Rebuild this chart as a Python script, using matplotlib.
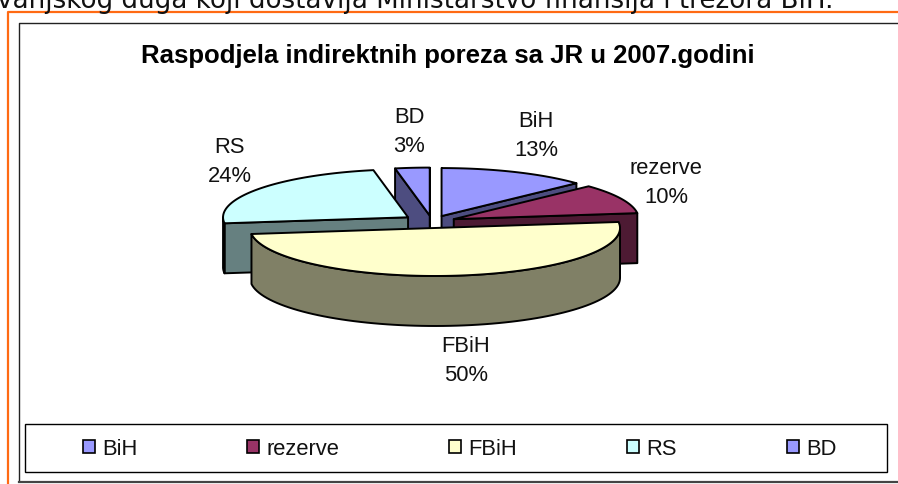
"""
Exploded 3D-look pie of the indirect tax split, drawn on a pixel-sized axes.

Output:
    out.png
"""

import matplotlib

matplotlib.use("Agg")

import matplotlib.pyplot as plt
import numpy as np
from matplotlib.colors import to_rgb
from matplotlib.patches import Patch, Rectangle

TITLE = "Raspodjela indirektnih poreza sa JR u 2007.godini"
HEADER = "vanjskog duga koji dostavlja Ministarstvo finansija i trezora BiH."

labels = ["BiH", "rezerve", "FBiH", "RS", "BD"]
values = [13, 10, 50, 24, 3]
colors = ["#9999FF", "#993366", "#FFFFCC", "#CCFFFF", "#9999FF"]
explode = [0.13, 0.13, 0.13, 0.16, 0.13]
label_pos = [(536, 136), (666, 183), (466, 361.5), (230, 162), (409, 132)]
draw_order = [4, 0, 3, 1, 2]

CENTER = (432, 222.8)
RX = 185
RY = 48
DEPTH = 50
SANS = "Liberation Sans"


def ellipse_point(angle, cx, cy):
    # angle runs clockwise from 12 o'clock, in radians
    return cx + RX * np.sin(angle), cy - RY * np.cos(angle)


def draw_wedge(ax, start, end, color, shift):
    mid = (start + end) / 2
    cx = CENTER[0] + shift * RX * np.sin(mid)
    cy = CENTER[1] - shift * RY * np.cos(mid)
    dark = tuple(c / 2 for c in to_rgb(color))
    style = dict(edgecolor="black", linewidth=1.4, joinstyle="round")

    # cut faces, only the ones turned towards the viewer
    for angle, sign in ((start, -1), (end, 1)):
        if sign * np.sin(angle) < -1e-6:
            continue
        ex, ey = ellipse_point(angle, cx, cy)
        ax.fill(
            [cx, ex, ex, cx],
            [cy, ey, ey + DEPTH, cy + DEPTH],
            facecolor=dark,
            **style,
        )

    # outer rim, front half of the ellipse only
    lo = max(start, np.pi / 2)
    hi = min(end, 3 * np.pi / 2)
    if hi > lo:
        t = np.linspace(lo, hi, 80)
        rx, ry = ellipse_point(t, cx, cy)
        ax.fill(
            np.r_[rx, rx[::-1]],
            np.r_[ry, ry[::-1] + DEPTH],
            facecolor=dark,
            **style,
        )

    t = np.linspace(start, end, 120)
    tx, ty = ellipse_point(t, cx, cy)
    ax.fill(np.r_[cx, tx], np.r_[cy, ty], facecolor=color, **style)


def main():
    fig = plt.figure(figsize=(8.98, 4.85), dpi=100)
    ax = fig.add_axes([0, 0, 1, 1])
    ax.set_xlim(0, 898)
    ax.set_ylim(485, 0)
    ax.axis("off")

    # page text and the orange box around the chart
    ax.text(-3, 7.5, HEADER, family="DejaVu Sans", fontsize=18.8, color="#111111", va="baseline")
    ax.plot([8, 8, 898], [485, 12.5, 12.5], color="#FF6A13", linewidth=1.6)
    ax.plot([898, 18.5, 18.5], [23.5, 23.5, 482], color="#222222", linewidth=1.0)
    ax.plot([18.5, 898], [482.5, 482.5], color="#444444", linewidth=1.6)

    ax.text(447.5, 56, TITLE, family=SANS, fontsize=18.55, fontweight="bold", ha="center", va="center")

    fractions = np.array(values) / sum(values)
    edges = np.r_[0, np.cumsum(fractions)] * 2 * np.pi
    for i in draw_order:
        draw_wedge(ax, edges[i], edges[i + 1], colors[i], explode[i])

    for name, value, (x, y) in zip(labels, values, label_pos):
        ax.text(
            x, y, f"{name}\n{value}%",
            family=SANS, fontsize=15.8, ha="center", va="center",
            linespacing=1.5, color="#111111",
        )

    ax.add_patch(Rectangle((24.5, 424.5), 862.5, 48, facecolor="white", edgecolor="black", linewidth=1.0))
    handles = [Patch(facecolor=c, edgecolor="black", linewidth=1.2) for c in colors]
    ax.legend(
        handles, labels,
        ncol=5, loc="center", bbox_to_anchor=(459.5, 449.5),
        bbox_transform=ax.transData, frameon=False,
        prop={"family": SANS, "size": 15.8},
        handlelength=0.55, handleheight=0.55, handletextpad=0.32,
        columnspacing=5.016, labelcolor="#111111",
    )

    fig.savefig("out.png", dpi=100)
    plt.close(fig)


if __name__ == "__main__":
    main()
